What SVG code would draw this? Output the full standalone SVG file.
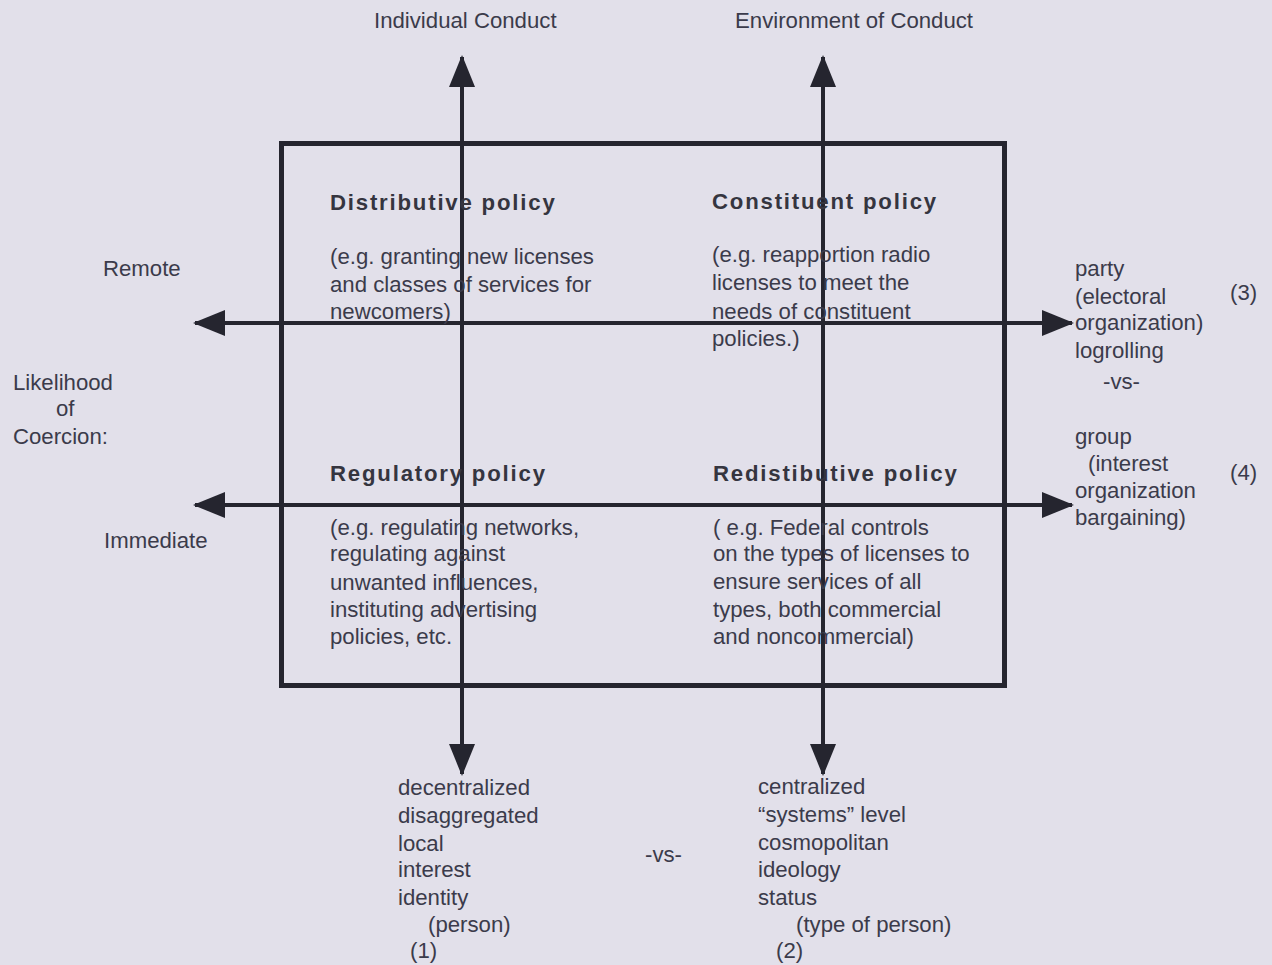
<svg xmlns="http://www.w3.org/2000/svg" width="1272" height="965" viewBox="0 0 1272 965">
<style>
text{font-family:"Liberation Sans",Arial,sans-serif;font-size:22.2px;fill:#3b3b4b}
.h{font-weight:bold;letter-spacing:1.8px;fill:#35353f}
.ax{stroke:#25252f;stroke-width:4;fill:none}
</style>
<defs>
<marker id="ah" markerUnits="userSpaceOnUse" markerWidth="32" markerHeight="26" refX="30" refY="13" orient="auto">
<polygon points="0,0 32,13 0,26" fill="#25252f"/>
</marker>
</defs>
<rect width="1272" height="965" fill="#e2e0ea"/>
<g id="frame"><rect x="281.5" y="143.5" width="723" height="542" fill="none" stroke="#25252f" stroke-width="5"/></g>
<g id="connectors">
<line class="ax" x1="462" y1="750" x2="462" y2="57" marker-end="url(#ah)"/>
<line class="ax" x1="462" y1="80" x2="462" y2="774" marker-end="url(#ah)"/>
<line class="ax" x1="823" y1="750" x2="823" y2="57" marker-end="url(#ah)"/>
<line class="ax" x1="823" y1="80" x2="823" y2="774" marker-end="url(#ah)"/>
<line class="ax" x1="1050" y1="323" x2="195" y2="323" marker-end="url(#ah)"/>
<line class="ax" x1="220" y1="323" x2="1072" y2="323" marker-end="url(#ah)"/>
<line class="ax" x1="1050" y1="505" x2="195" y2="505" marker-end="url(#ah)"/>
<line class="ax" x1="220" y1="505" x2="1072" y2="505" marker-end="url(#ah)"/>
</g>
<g id="top-labels">
<text x="374" y="28">Individual Conduct</text>
<text x="735" y="28">Environment of Conduct</text>
</g>
<g id="distributive">
<text class="h" x="330" y="210">Distributive policy</text>
<text x="330" y="264">(e.g. granting new licenses</text>
<text x="330" y="292">and classes of services for</text>
<text x="330" y="319">newcomers)</text>
</g>
<g id="constituent">
<text class="h" x="712" y="209">Constituent policy</text>
<text x="712" y="262">(e.g. reapportion radio</text>
<text x="712" y="290">licenses to meet the</text>
<text x="712" y="319">needs of constituent</text>
<text x="712" y="346">policies.)</text>
</g>
<g id="regulatory">
<text class="h" x="330" y="481">Regulatory policy</text>
<text x="330" y="535">(e.g. regulating networks,</text>
<text x="330" y="561">regulating against</text>
<text x="330" y="590">unwanted influences,</text>
<text x="330" y="617">instituting advertising</text>
<text x="330" y="644">policies, etc.</text>
</g>
<g id="redistributive">
<text class="h" x="713" y="481">Redistibutive policy</text>
<text x="713" y="535">( e.g. Federal controls</text>
<text x="713" y="561">on the types of licenses to</text>
<text x="713" y="589">ensure services of all</text>
<text x="713" y="617">types, both commercial</text>
<text x="713" y="644">and noncommercial)</text>
</g>
<g id="left-labels">
<text x="103" y="276">Remote</text>
<text x="13" y="390">Likelihood</text>
<text x="56" y="416">of</text>
<text x="13" y="444">Coercion:</text>
<text x="104" y="548">Immediate</text>
</g>
<g id="right-labels">
<text x="1075" y="276">party</text>
<text x="1075" y="304">(electoral</text>
<text x="1075" y="330">organization)</text>
<text x="1075" y="358">logrolling</text>
<text x="1103" y="389">-vs-</text>
<text x="1075" y="444">group</text>
<text x="1088" y="471">(interest</text>
<text x="1075" y="498">organization</text>
<text x="1075" y="525">bargaining)</text>
<text x="1230" y="300">(3)</text>
<text x="1230" y="480">(4)</text>
</g>
<g id="bottom-left">
<text x="398" y="795">decentralized</text>
<text x="398" y="823">disaggregated</text>
<text x="398" y="851">local</text>
<text x="398" y="877">interest</text>
<text x="398" y="905">identity</text>
<text x="428" y="932">(person)</text>
<text x="410" y="958">(1)</text>
</g>
<text x="645" y="862">-vs-</text>
<g id="bottom-right">
<text x="758" y="794">centralized</text>
<text x="758" y="822">“systems” level</text>
<text x="758" y="850">cosmopolitan</text>
<text x="758" y="877">ideology</text>
<text x="758" y="905">status</text>
<text x="796" y="932">(type of person)</text>
<text x="776" y="958">(2)</text>
</g>
</svg>
